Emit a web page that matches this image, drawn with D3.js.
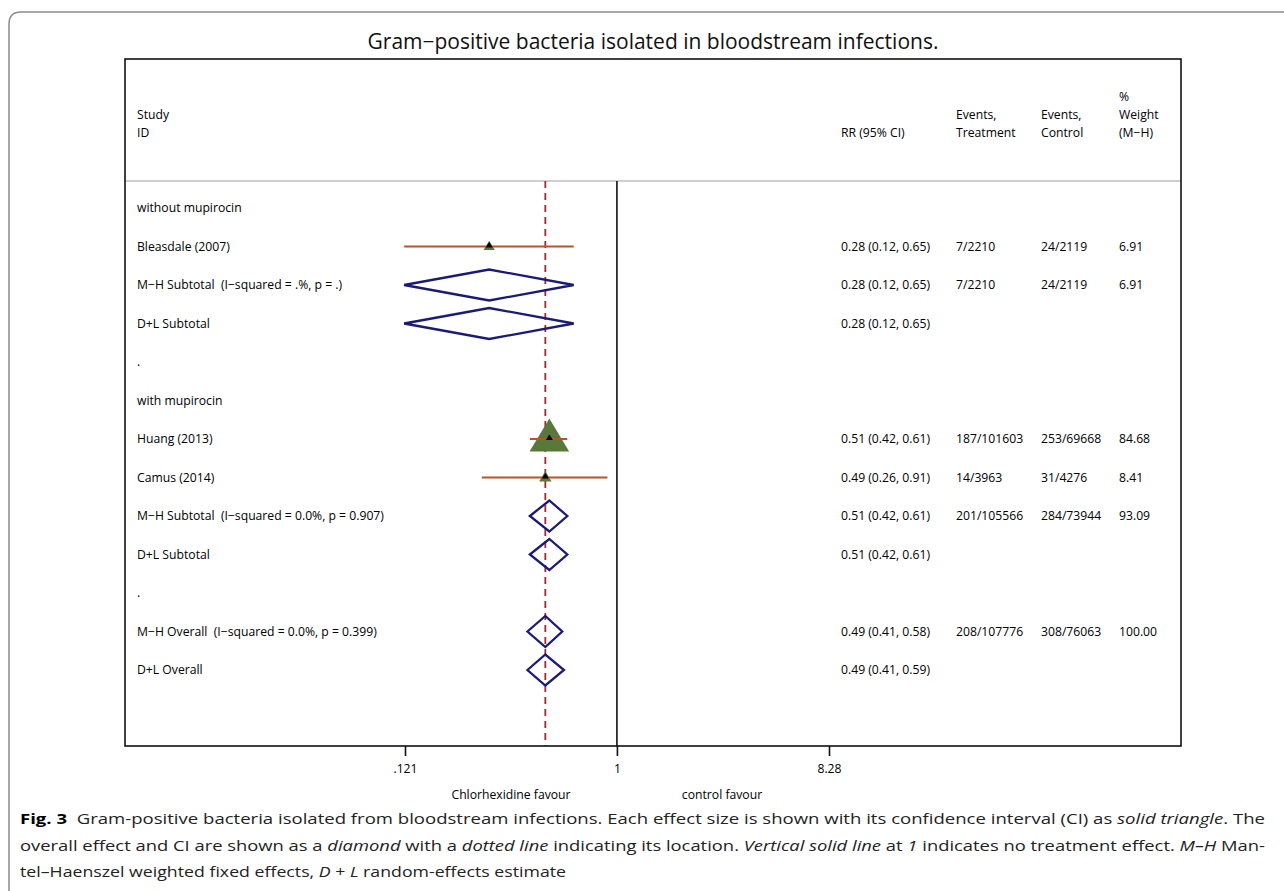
<!DOCTYPE html>
<html>
<head>
<meta charset="utf-8">
<script src="https://cdn.jsdelivr.net/npm/d3@7"></script>
<style>
  body { margin: 0; background: #fff; }
  text { font-family: "Open Sans", "Noto Sans", sans-serif; white-space: pre; }
</style>
</head>
<body>
<div id="chart"></div>
<script>
// rows of the forest plot, top to bottom
const labels = ["without mupirocin", "Bleasdale (2007)", "M\u2212H Subtotal  (I\u2212squared = .%, p = .)", "D+L Subtotal", ".",
  "with mupirocin", "Huang (2013)", "Camus (2014)", "M\u2212H Subtotal  (I\u2212squared = 0.0%, p = 0.907)", "D+L Subtotal", ".",
  "M\u2212H Overall  (I\u2212squared = 0.0%, p = 0.399)", "D+L Overall"];
const rowKind = ["head", "study", "diamond", "diamond", "blank", "head", "study", "study", "diamond", "diamond", "blank", "diamond", "diamond"];
const rr = [null, 0.28, 0.28, 0.28, null, null, 0.51, 0.49, 0.51, 0.51, null, 0.49, 0.49];
const lower = [null, 0.12, 0.12, 0.12, null, null, 0.42, 0.26, 0.42, 0.42, null, 0.41, 0.41];
const upper = [null, 0.65, 0.65, 0.65, null, null, 0.61, 0.91, 0.61, 0.61, null, 0.58, 0.59];
const rrText = ["", "0.28 (0.12, 0.65)", "0.28 (0.12, 0.65)", "0.28 (0.12, 0.65)", "", "", "0.51 (0.42, 0.61)", "0.49 (0.26, 0.91)",
  "0.51 (0.42, 0.61)", "0.51 (0.42, 0.61)", "", "0.49 (0.41, 0.58)", "0.49 (0.41, 0.59)"];
const eventsTreat = ["", "7/2210", "7/2210", "", "", "", "187/101603", "14/3963", "201/105566", "", "", "208/107776", ""];
const eventsCtrl = ["", "24/2119", "24/2119", "", "", "", "253/69668", "31/4276", "284/73944", "", "", "308/76063", ""];
const weight = [null, 6.91, 6.91, null, null, null, 84.68, 8.41, 93.09, null, null, 100.00, null];
const overallRR = 0.49;
const tickValues = [0.121, 1, 8.28];
const tickLabels = [".121", "1", "8.28"];

const W = 1284, H = 891;
const svg = d3.select("#chart").append("svg").attr("width", W).attr("height", H);

// outer figure frame (rounded corner, top & left only visible)
svg.append("path")
  .attr("d", "M9,891 L9,24 Q9,12 21,12 L1284,12")
  .attr("fill", "none").attr("stroke", "#8c8c8c").attr("stroke-width", 1.5);

// title
svg.append("text").attr("x", 653).attr("y", 49).attr("text-anchor", "middle")
  .attr("font-size", 21).attr("fill", "#111")
  .text("Gram\u2212positive bacteria isolated in bloodstream infections.");

const box = {left: 125, right: 1181, top: 59, bottom: 746};
const headerLine = 181;

// scales
const x = d3.scaleLog().domain([0.121, 8.28]).range([405, 829]);
const y = d3.scaleLinear().domain([0, labels.length - 1]).range([208, 670]);

// header separator
svg.append("line").attr("x1", box.left).attr("x2", box.right)
  .attr("y1", headerLine).attr("y2", headerLine)
  .attr("stroke", "#cfcfcf").attr("stroke-width", 2);

// no-effect line
svg.append("line").attr("x1", x(1)).attr("x2", x(1))
  .attr("y1", headerLine).attr("y2", box.bottom)
  .attr("stroke", "#111").attr("stroke-width", 1.6);

// overall effect dashed line
svg.append("line").attr("x1", x(overallRR)).attr("x2", x(overallRR))
  .attr("y1", headerLine).attr("y2", box.bottom)
  .attr("stroke", "#a3282f").attr("stroke-width", 1.8).attr("stroke-dasharray", "7,5");

// plot box
svg.append("rect").attr("x", box.left).attr("y", box.top)
  .attr("width", box.right - box.left).attr("height", box.bottom - box.top)
  .attr("fill", "none").attr("stroke", "#111").attr("stroke-width", 1.6);

// column headers
const fs = 12.2;
const hdr = svg.append("g").attr("font-size", fs).attr("fill", "#000");
function head(xp, yp, t) { hdr.append("text").attr("x", xp).attr("y", yp).text(t); }
head(137, 119, "Study"); head(137, 137, "ID");
head(841, 137, "RR (95% CI)");
head(956, 119, "Events,"); head(956, 137, "Treatment");
head(1041, 119, "Events,"); head(1041, 137, "Control");
head(1119, 101, "%"); head(1119, 119, "Weight"); head(1119, 137, "(M\u2212H)");

// row text
const rows = svg.append("g").attr("font-size", fs).attr("fill", "#000");
labels.forEach((lab, i) => {
  const yy = y(i) + 4;
  rows.append("text").attr("x", 137).attr("y", yy).text(lab);
  if (rrText[i]) rows.append("text").attr("x", 841).attr("y", yy).text(rrText[i]);
  if (eventsTreat[i]) rows.append("text").attr("x", 956).attr("y", yy).text(eventsTreat[i]);
  if (eventsCtrl[i]) rows.append("text").attr("x", 1041).attr("y", yy).text(eventsCtrl[i]);
  if (weight[i] != null) rows.append("text").attr("x", 1119).attr("y", yy).text(weight[i].toFixed(2));
});

// study markers: CI line + weighted triangle
const triSize = d3.scaleSqrt().domain([0, 84.68]).range([0, 33]);
labels.forEach((lab, i) => {
  if (rowKind[i] !== "study") return;
  const cx = x(rr[i]), cy = y(i);
  const s = triSize(weight[i]);
  svg.append("path")
    .attr("d", `M${cx},${cy - s * 0.62} L${cx + s * 0.6},${cy + s * 0.38} L${cx - s * 0.6},${cy + s * 0.38} Z`)
    .attr("fill", "#58793a");
  svg.append("line").attr("x1", x(lower[i])).attr("x2", x(upper[i]))
    .attr("y1", cy).attr("y2", cy)
    .attr("stroke", "#b5552b").attr("stroke-width", 2);
  svg.append("path")
    .attr("d", `M${cx},${cy - 4.5} L${cx + 3.5},${cy + 1} L${cx - 3.5},${cy + 1} Z`)
    .attr("fill", "#000");
});

// pooled diamonds
labels.forEach((lab, i) => {
  if (rowKind[i] !== "diamond") return;
  const cy = y(i), hh = 15.5;
  svg.append("path")
    .attr("d", `M${x(lower[i])},${cy} L${x(rr[i])},${cy - hh} L${x(upper[i])},${cy} L${x(rr[i])},${cy + hh} Z`)
    .attr("fill", "none").attr("stroke", "#1a1a78").attr("stroke-width", 2.3);
});

// axis
const axis = d3.axisBottom(x).tickValues(tickValues)
  .tickFormat((d, i) => tickLabels[i]).tickSize(10).tickPadding(8);
const ax = svg.append("g").attr("transform", `translate(0,${box.bottom})`).call(axis);
ax.select(".domain").remove();
ax.selectAll(".tick line").attr("stroke", "#111").attr("stroke-width", 1.6);
ax.selectAll(".tick text").attr("font-size", fs).attr("fill", "#000")
  .style("font-family", "'Open Sans', 'Noto Sans', sans-serif");

svg.append("text").attr("x", 511).attr("y", 799).attr("text-anchor", "middle")
  .attr("font-size", fs).attr("fill", "#000").text("Chlorhexidine favour");
svg.append("text").attr("x", 722).attr("y", 799).attr("text-anchor", "middle")
  .attr("font-size", fs).attr("fill", "#000").text("control favour");

// caption
const capLines = [
  [["b", "Fig. 3"], ["n", "  Gram-positive bacteria isolated from bloodstream infections. Each effect size is shown with its confidence interval (CI) as "], ["i", "solid triangle"], ["n", ". The"]],
  [["n", "overall effect and CI are shown as a "], ["i", "diamond"], ["n", " with a "], ["i", "dotted line"], ["n", " indicating its location. "], ["i", "Vertical solid line"], ["n", " at "], ["i", "1"], ["n", " indicates no treatment effect. "], ["i", "M\u2013H"], ["n", " Man-"]],
  [["n", "tel\u2013Haenszel weighted fixed effects, "], ["i", "D"], ["n", " + "], ["i", "L"], ["n", " random-effects estimate"]]
];
const capY = [824, 851, 877];
const capLen = [1245, 1245, 546];
capLines.forEach((parts, li) => {
  const t = svg.append("text").attr("x", 20).attr("y", capY[li])
    .attr("font-size", 15).attr("fill", "#222")
    .attr("textLength", capLen[li]).attr("lengthAdjust", "spacingAndGlyphs");
  parts.forEach(p => {
    const ts = t.append("tspan").text(p[1]);
    if (p[0] === "b") ts.attr("font-weight", "bold").attr("fill", "#000");
    if (p[0] === "i") ts.attr("font-style", "italic");
  });
});
</script>
</body>
</html>
